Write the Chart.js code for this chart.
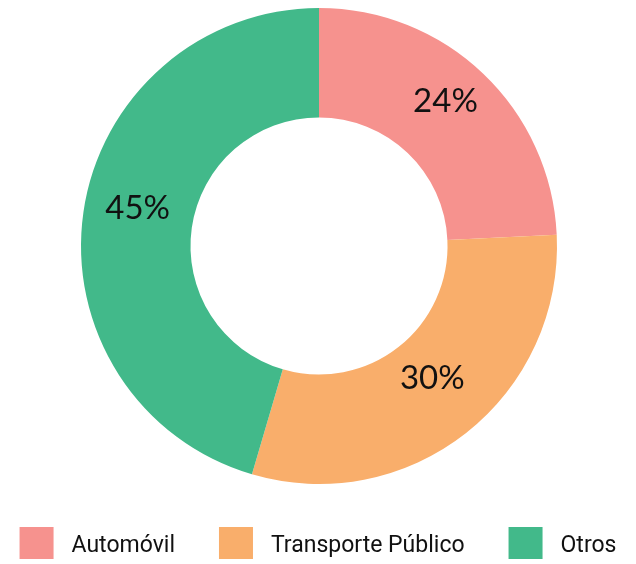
<!DOCTYPE html>
<html>
<head>
<meta charset="utf-8">
<script src="https://cdn.jsdelivr.net/npm/chart.js@4.4.0/dist/chart.umd.min.js"></script>
<style>
  html, body { margin: 0; padding: 0; background: #ffffff; }
  #wrap { width: 636px; height: 564px; }
</style>
</head>
<body>
<div id="wrap"><canvas id="donut"></canvas></div>
<script>
// Reparto modal
const categories = ['Automóvil', 'Transporte Público', 'Otros'];
const shares = [24, 30, 45];
const sliceColors = ['#F6928E', '#F9AE6B', '#42B98A'];

// percentage text in the middle of each slice
const sliceLabels = {
    id: 'sliceLabels',
    afterDatasetsDraw(chart) {
        const ctx = chart.ctx;
        const meta = chart.getDatasetMeta(0);
        ctx.save();
        ctx.font = '400 33px Lato';
        ctx.fillStyle = '#111111';
        ctx.textAlign = 'center';
        ctx.textBaseline = 'middle';
        meta.data.forEach((arc, i) => {
            const pos = arc.tooltipPosition();
            ctx.fillText(shares[i] + '%', pos.x, pos.y - 12);
        });
        ctx.restore();
    }
};

// single-row legend under the ring, wider gaps than the built-in one
const bottomLegend = {
    id: 'bottomLegend',
    afterDraw(chart) {
        const ctx = chart.ctx;
        const box = { w: 34, h: 32 };
        const gap = 18, spacing = 44;
        ctx.save();
        ctx.font = '400 23px Roboto';
        const widths = categories.map(c => ctx.measureText(c).width);
        const total = widths.reduce((a, w) => a + box.w + gap + w, 0) + spacing * (categories.length - 1);
        let x = (chart.width - total) / 2;
        const top = chart.height - 37;
        ctx.textBaseline = 'middle';
        ctx.textAlign = 'left';
        categories.forEach((c, i) => {
            ctx.fillStyle = sliceColors[i];
            ctx.fillRect(x, top, box.w, box.h);
            x += box.w + gap;
            ctx.fillStyle = '#111111';
            ctx.fillText(c, x, top + 19);
            x += widths[i] + spacing;
        });
        ctx.restore();
    }
};

new Chart(document.getElementById('donut'), {
    type: 'doughnut',
    data: {
        labels: categories,
        datasets: [{
            data: shares,
            backgroundColor: sliceColors,
            borderWidth: 0
        }]
    },
    options: {
        responsive: true,
        maintainAspectRatio: false,
        animation: false,
        cutout: '54%',
        layout: { padding: { top: 8, bottom: 80, left: 2 } },
        plugins: {
            tooltip: { enabled: false },
            legend: { display: false }
        }
    },
    plugins: [sliceLabels, bottomLegend]
});
</script>
</body>
</html>
